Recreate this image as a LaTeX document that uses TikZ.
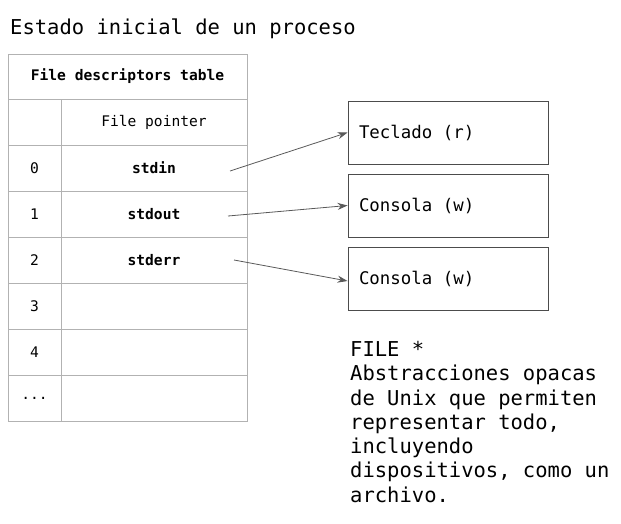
\documentclass[tikz,border=0pt]{standalone}
\usepackage{fontspec}
\setmonofont{DejaVu Sans Mono}
\usepackage{tikz}
\usetikzlibrary{arrows.meta, positioning}

\newcommand{\filename}[1]{\makebox[178pt][l]{#1}}

\begin{document}
\begin{tikzpicture}[x=1pt, y=-1pt, font=\ttfamily]
        % Setup the styles
        \tikzset{cell style/.style={draw=gray!60,
                                    line width=0.9pt,
                                    inner sep=0pt,
                                    minimum height=46pt,
                                    font=\ttfamily\fontsize{14.6}{16}\selectfont},
                 index style/.style={cell style, minimum width=53pt},
                 pointer style/.style={cell style, minimum width=186pt},
                 file style/.style={draw=black!70,
                                    line width=0.9pt,
                                    minimum width=200pt,
                                    minimum height=63pt,
                                    inner xsep=11pt,
                                    font=\ttfamily\fontsize{17.4}{20}\selectfont}}
        \useasboundingbox (0,0) rectangle (621,523);

        % Title
        \node[anchor=west, inner sep=0pt, font=\ttfamily\fontsize{20.5}{24}\selectfont]
            at (10, 29) (title) {Estado inicial de un proceso};

        % Draw the table
        \node[cell style, minimum width=239pt, minimum height=45pt, font=\ttfamily\bfseries\fontsize{14.6}{16}\selectfont]
            at (127.5, 76.5) (header) {File descriptors table};
        \node[index style]   at (34.5, 122) (idxh) {};
        \node[pointer style] at (154, 122)  (ptrh) {File pointer};
        \node[index style]   at (34.5, 168) (idx0) {0};
        \node[pointer style] at (154, 168)  (ptr0) {\bfseries stdin};
        \node[index style]   at (34.5, 214) (idx1) {1};
        \node[pointer style] at (154, 214)  (ptr1) {\bfseries stdout};
        \node[index style]   at (34.5, 260) (idx2) {2};
        \node[pointer style] at (154, 260)  (ptr2) {\bfseries stderr};
        \foreach \n/\lbl/\y in {3/3/306, 4/4/352, d/{.{}.{}.}/398} {
            \node[index style]   at (34.5, \y) (idx\n) {\lbl};
            \node[pointer style] at (154, \y)  (ptr\n) {};
        }

        % Draw the files
        \node[file style] at (448, 132.5) (teclado) {\filename{Teclado (r)}};
        \node[file style] at (448, 205.5) (consola) {\filename{Consola (w)}};
        \node[file style] at (448, 279)   (error)   {\filename{Consola (w)}};

        % Start of the arrows
        \coordinate (in)  at (230, 171);
        \coordinate (out) at (228, 216);
        \coordinate (err) at (234, 260);

        % Connect the table with the files
        \draw[line width=0.8pt,
              >={Stealth[length=10pt, width=7pt]},
              draw=black!65,
              fill=black!65]
            (in)  edge[->] (teclado.west)
            (out) edge[->] (consola.west)
            (err) edge[->] ([yshift=-2pt]error.west);

        % Note
        \node[anchor=north west, inner sep=0pt, align=left,
              font=\ttfamily\fontsize{20.5}{24.3}\selectfont]
            at (350, 341) (note) {FILE *\\Abstracciones opacas\\de Unix que permiten\\representar todo,\\incluyendo\\dispositivos, como un\\archivo.};
\end{tikzpicture}
\end{document}
